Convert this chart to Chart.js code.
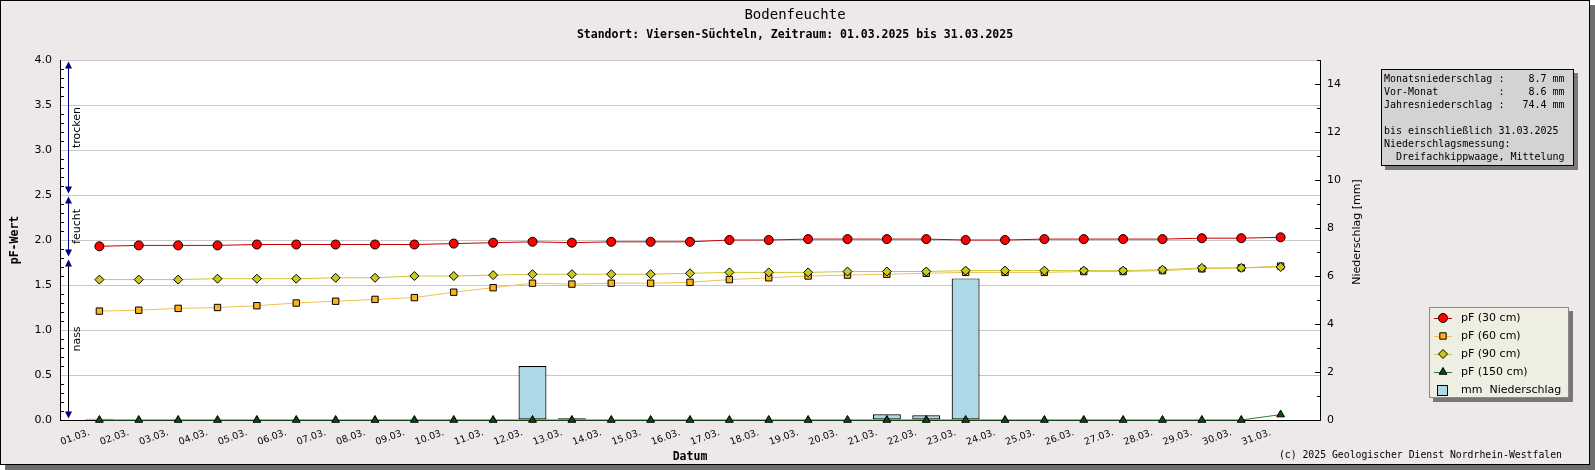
<!DOCTYPE html>
<html>
<head>
<meta charset="utf-8">
<title>Bodenfeuchte</title>
<script src="https://cdn.jsdelivr.net/npm/chart.js"></script>
<style>
    body { margin: 0; background: #fff; }
    #frame { position: absolute; left: 0; top: 0; width: 1590px; height: 465px; box-sizing: border-box;
             border: 1px solid #000; background: #ece9e8; box-shadow: 5px 5px 0 #6e6e6e; }
    #chart { position: absolute; left: 0; top: 0; }
    .mono { font-family: "DejaVu Sans Mono", monospace; position: absolute; color: #000; white-space: pre; }
    #title { left: 0; width: 1590px; top: 6px; text-align: center; font-size: 14px; line-height: 16px; }
    #subtitle { left: 0; width: 1590px; top: 27px; text-align: center; font-size: 11.5px; line-height: 14px; font-weight: bold; }
    #info { left: 1381px; top: 69px; width: 193px; height: 97px; box-sizing: border-box; margin: 0;
            border: 1px solid #000; background: #d3d3d3; box-shadow: 4px 4px 0 #7a7a7a;
            font-size: 10px; line-height: 13px; padding: 2px 0 0 2px; }
    #credit { right: 33px; top: 448px; font-size: 9.8px; line-height: 14px; }
</style>
</head>
<body>
    <div id="frame"></div>
    <canvas id="chart" width="1595" height="470"></canvas>
    <div id="title" class="mono">Bodenfeuchte</div>
    <div id="subtitle" class="mono">Standort: Viersen-Süchteln, Zeitraum: 01.03.2025 bis 31.03.2025</div>
<pre id="info" class="mono">Monatsniederschlag :    8.7 mm
Vor-Monat          :    8.6 mm
Jahresniederschlag :   74.4 mm

bis einschließlich 31.03.2025
Niederschlagsmessung:
  Dreifachkippwaage, Mittelung</pre>
    <div id="credit" class="mono">(c) 2025 Geologischer Dienst Nordrhein-Westfalen</div>

<script>
// tick labels (one per day)
const days = ['01.03.', '02.03.', '03.03.', '04.03.', '05.03.', '06.03.', '07.03.', '08.03.', '09.03.', '10.03.',
              '11.03.', '12.03.', '13.03.', '14.03.', '15.03.', '16.03.', '17.03.', '18.03.', '19.03.', '20.03.',
              '21.03.', '22.03.', '23.03.', '24.03.', '25.03.', '26.03.', '27.03.', '28.03.', '29.03.', '30.03.', '31.03.'];

// pF values per depth
const pf30  = [1.93, 1.94, 1.94, 1.94, 1.95, 1.95, 1.95, 1.95, 1.95, 1.96, 1.97, 1.98, 1.97, 1.98, 1.98, 1.98,
               2.00, 2.00, 2.01, 2.01, 2.01, 2.01, 2.00, 2.00, 2.01, 2.01, 2.01, 2.01, 2.02, 2.02, 2.03];
const pf60  = [1.21, 1.22, 1.24, 1.25, 1.27, 1.30, 1.32, 1.34, 1.36, 1.42, 1.47, 1.52, 1.51, 1.52, 1.52, 1.53,
               1.56, 1.58, 1.60, 1.61, 1.62, 1.63, 1.64, 1.64, 1.64, 1.65, 1.65, 1.66, 1.68, 1.69, 1.71];
const pf90  = [1.56, 1.56, 1.56, 1.57, 1.57, 1.57, 1.58, 1.58, 1.60, 1.60, 1.61, 1.62, 1.62, 1.62, 1.62, 1.63,
               1.64, 1.64, 1.64, 1.65, 1.65, 1.65, 1.66, 1.66, 1.66, 1.66, 1.66, 1.67, 1.69, 1.69, 1.70];
const pf150 = [0, 0, 0, 0, 0, 0, 0, 0, 0, 0, 0, 0, 0, 0, 0, 0,
               0, 0, 0, 0, 0, 0, 0, 0, 0, 0, 0, 0, 0, 0, 0.06];

// daily precipitation in mm
const rain  = [0.05, 0, 0, 0, 0, 0, 0, 0, 0, 0, 0, 2.25, 0.07, 0, 0, 0,
               0, 0, 0, 0, 0.24, 0.2, 5.9, 0, 0, 0, 0, 0, 0, 0, 0];

const seriesLabels = ['pF (30 cm)', 'pF (60 cm)', 'pF (90 cm)', 'pF (150 cm)'];
const rainLabel = 'mm  Niederschlag';

// moisture zones on the pF axis
const zoneLabels = ['trocken', 'feucht', 'nass'];
const zoneTop    = [4.0, 2.5, 1.8];
const zoneBottom = [2.5, 1.8, 0.0];

// one empty slot left and right, the original leaves a full day of space at both ends
const pad = arr => [null, ...arr, null];

const extras = {
    id: 'extras',
    beforeDraw(chart) {
        const {ctx, chartArea: a} = chart;
        ctx.save();
        ctx.fillStyle = '#fff';
        ctx.fillRect(a.left, a.top, a.right - a.left, a.bottom - a.top);
        ctx.restore();
    },
    afterDraw(chart) {
        const {ctx, chartArea: a, scales} = chart;
        const y = scales.y, y1 = scales.y1;
        ctx.save();

        // minor ticks, drawn inside the plot
        ctx.strokeStyle = '#000';
        ctx.lineWidth = 1;
        ctx.beginPath();
        for (let i = 1; i < 40; i++) {
            if (i % 5 === 0) continue;
            const py = Math.round(y.getPixelForValue(i / 10)) + 0.5;
            ctx.moveTo(a.left, py);
            ctx.lineTo(a.left + 4, py);
        }
        for (let i = 1; i <= 15; i++) {
            const py = Math.round(y1.getPixelForValue(i)) + 0.5;
            ctx.moveTo(a.right, py);
            ctx.lineTo(a.right - (i % 2 ? 3 : 5), py);
        }
        ctx.stroke();

        // zone arrows
        const ax = a.left + 8.5;
        zoneLabels.forEach((lab, i) => {
            const top = y.getPixelForValue(zoneTop[i]) + 1.5;
            const bot = y.getPixelForValue(zoneBottom[i]) - 1.5;
            ctx.strokeStyle = i < 2 ? '#000080' : '#000';
            ctx.beginPath();
            ctx.moveTo(ax, top + 4);
            ctx.lineTo(ax, bot - 4);
            ctx.stroke();
            ctx.fillStyle = '#000080';
            ctx.beginPath();
            ctx.moveTo(ax, top); ctx.lineTo(ax - 3.5, top + 7); ctx.lineTo(ax + 3.5, top + 7);
            ctx.closePath(); ctx.fill();
            ctx.beginPath();
            ctx.moveTo(ax, bot); ctx.lineTo(ax - 3.5, bot - 7); ctx.lineTo(ax + 3.5, bot - 7);
            ctx.closePath(); ctx.fill();

            ctx.save();
            ctx.translate(ax + 8.5, (top + bot) / 2);
            ctx.rotate(-Math.PI / 2);
            ctx.fillStyle = '#000';
            ctx.font = '11px "DejaVu Sans"';
            ctx.textAlign = 'center';
            ctx.textBaseline = 'middle';
            ctx.fillText(lab, 0, 0);
            ctx.restore();
        });

        // right axis title, reads bottom to top
        ctx.save();
        ctx.translate(1357, 232);
        ctx.rotate(-Math.PI / 2);
        ctx.fillStyle = '#000';
        ctx.font = '11px "DejaVu Sans"';
        ctx.textAlign = 'center';
        ctx.textBaseline = 'middle';
        ctx.fillText('Niederschlag [mm]', 0, 0);
        ctx.restore();

        // legend box
        const lx = 1429, ly = 307, lw = 140, lh = 91;
        ctx.fillStyle = '#777';
        ctx.fillRect(lx + 4, ly + 4, lw, lh);
        ctx.fillStyle = '#eeeee2';
        ctx.fillRect(lx, ly, lw, lh);
        ctx.strokeStyle = '#8a8a8a';
        ctx.strokeRect(lx + 0.5, ly + 0.5, lw - 1, lh - 1);

        ctx.font = '11px "DejaVu Sans"';
        ctx.textAlign = 'left';
        ctx.textBaseline = 'middle';
        chart.data.datasets.forEach((ds, i) => {
            const ry = 318 + i * 18;
            if (ds.type === 'line') {
                ctx.strokeStyle = ds.borderColor;
                ctx.beginPath();
                ctx.moveTo(1434, ry + 0.5);
                ctx.lineTo(1452, ry + 0.5);
                ctx.stroke();
                ctx.fillStyle = ds.pointBackgroundColor;
                ctx.strokeStyle = '#000';
                Chart.helpers.drawPoint(ctx, {pointStyle: ds.pointStyle, radius: ds.pointRadius, rotation: 0, borderWidth: 1}, 1443, ry);
            } else {
                ctx.fillStyle = ds.backgroundColor;
                ctx.fillRect(1437, ry - 5, 10, 10);
                ctx.strokeStyle = '#000';
                ctx.strokeRect(1437.5, ry - 4.5, 10, 10);
            }
            ctx.fillStyle = '#000';
            ctx.fillText(ds.label, 1461, ry);
        });
        ctx.restore();
    }
};

function lineSet(label, data, line, fill, style, order) {
    return {
        type: 'line', label: label, data: pad(data), yAxisID: 'y', order: order,
        borderColor: line, borderWidth: 1, tension: 0, clip: false,
        pointStyle: style, pointRadius: 4.5, pointBackgroundColor: fill,
        pointBorderColor: '#000', pointBorderWidth: 1
    };
}

const tickFont = {family: 'DejaVu Sans', size: 11};

new Chart(document.getElementById('chart'), {
    type: 'bar',
    data: {
        labels: pad(days).map(d => d || ''),
        datasets: [
            lineSet(seriesLabels[0], pf30, '#cc0000', '#ff0000', 'circle', 1),
            lineSet(seriesLabels[1], pf60, '#f0c050', '#ffb31a', 'rect', 3),
            lineSet(seriesLabels[2], pf90, '#d0c830', '#c8c81e', 'rectRot', 2),
            lineSet(seriesLabels[3], pf150, '#2e7d32', '#0b4d0b', 'triangle', 0),
            {
                type: 'bar', label: rainLabel, data: pad(rain), yAxisID: 'y1', order: 5,
                backgroundColor: '#add8e6', borderColor: '#000', borderWidth: 1.2, borderSkipped: false,
                categoryPercentage: 1, barPercentage: 0.71
            }
        ]
    },
    options: {
        responsive: false,
        animation: false,
        events: [],
        layout: { padding: { top: 60, left: 0, right: 0, bottom: 0 } },
        plugins: { legend: { display: false }, tooltip: { enabled: false } },
        scales: {
            x: {
                type: 'category',
                offset: false,
                grid: { display: false, drawTicks: false },
                border: { color: '#000' },
                ticks: { autoSkip: false, minRotation: 20, maxRotation: 20, font: {family: 'DejaVu Sans', size: 9.5},
                         color: '#000', padding: 7, labelOffset: -10 },
                title: { display: true, text: 'Datum', color: '#000',
                         font: { family: 'DejaVu Sans Mono', size: 11.5, weight: 'bold' },
                         padding: { top: 0, bottom: 6 } },
                afterFit(s) { s.height = 50; }
            },
            y: {
                position: 'left',
                min: 0, max: 4,
                grid: { color: '#c8c8c8', drawTicks: false },
                border: { color: '#000' },
                ticks: { stepSize: 0.5, padding: 8, font: tickFont, color: '#000', callback: v => v.toFixed(1) },
                title: { display: true, text: 'pF-Wert', color: '#000',
                         font: { family: 'DejaVu Sans Mono', size: 11.5, weight: 'bold' },
                         padding: { top: 8.6, bottom: 0 } },
                afterFit(s) { s.width = 60; }
            },
            y1: {
                position: 'right',
                min: 0, max: 15,
                grid: { drawOnChartArea: false, drawTicks: false },
                border: { color: '#000' },
                ticks: { stepSize: 2, padding: 7, font: tickFont, color: '#000' },
                afterBuildTicks(s) { s.ticks = s.ticks.filter(t => t.value % 2 === 0); },
                afterFit(s) { s.width = 275; }
            }
        }
    },
    plugins: [extras]
});
</script>
</body>
</html>
